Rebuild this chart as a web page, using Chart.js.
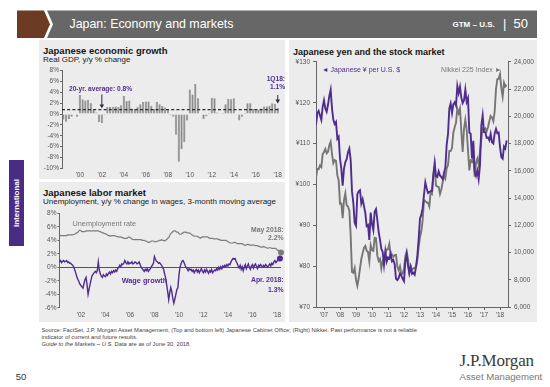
<!DOCTYPE html>
<html>
<head>
<meta charset="utf-8">
<script src="https://cdn.jsdelivr.net/npm/chart.js@4.4.1/dist/chart.umd.min.js"></script>
<style>
html,body{margin:0;padding:0}
body{width:550px;height:387px;position:relative;overflow:hidden;background:#fff;font-family:'Liberation Sans',Arial,Helvetica,sans-serif;color:#1a1a1a}
.a{position:absolute;white-space:nowrap}
.p{position:absolute;background:#ececec}
canvas{position:absolute}
.t{font-weight:bold;font-size:9.5px;line-height:12px;color:#151515}
.s{font-size:8px;line-height:10px;color:#222}
.pu{color:#4f2d8f}
.r{text-align:right}
</style>
</head>
<body>
<svg class="a" style="left:0;top:0" width="550" height="45">
 <polygon points="17,10.5 44,10.5 50,24.25 44,38 17,38" fill="#6d3a24"/>
 <polygon points="47,10.5 537,10.5 537,38 47,38 53,24.25" fill="#676767"/>
</svg>
<div class="a" style="left:69.5px;top:16.2px;font-size:12.4px;line-height:16px;color:#fff">Japan: Economy and markets</div>
<div class="a" style="left:452.5px;top:18.5px;font-size:8px;line-height:12px;color:#fff;font-weight:bold">GTM – U.S.</div>
<div class="a" style="left:503px;top:15px;font-size:13px;line-height:18px;color:#fff">|</div>
<div class="a" style="left:513.5px;top:15.3px;font-size:13px;line-height:18px;color:#fff">50</div>

<div class="a" style="left:9px;top:160px;width:15px;height:86px;background:#4b2c85"></div>
<div class="a" style="left:16.5px;top:203px;transform:translate(-50%,-50%) rotate(-90deg);font-size:8px;line-height:10px;color:#fff;font-weight:bold">International</div>

<div class="p" style="left:39px;top:40px;width:246px;height:139px"></div>
<div class="p" style="left:39px;top:182px;width:246px;height:140px"></div>
<div class="p" style="left:289px;top:40px;width:248px;height:282px"></div>

<div class="a t" style="left:43px;top:44.5px">Japanese economic growth</div>
<div class="a s" style="left:43px;top:54.7px">Real GDP, y/y % change</div>
<div class="a t" style="left:43px;top:186.7px">Japanese labor market</div>
<div class="a s" style="left:43px;top:196.7px">Unemployment, y/y % change in wages, 3-month moving average</div>
<div class="a t" style="left:293px;top:45.7px;font-size:9px">Japanese yen and the stock market</div>

<canvas id="c1" width="247" height="120" style="left:38px;top:62px"></canvas>
<canvas id="c2" width="247" height="117" style="left:38px;top:205px"></canvas>
<canvas id="c3" width="250" height="267" style="left:287px;top:55px"></canvas>

<div class="a pu" style="left:69px;top:85.3px;font-size:6.6px;line-height:8px;font-weight:bold">20-yr. average: 0.8%</div>
<div class="a pu r" style="right:265px;top:75px;font-size:6.6px;line-height:8px;font-weight:bold">1Q18:<br>1.1%</div>

<div class="a" style="left:72.5px;top:218.8px;font-size:7.3px;line-height:9px;color:#7a7a7a">Unemployment rate</div>
<div class="a pu" style="left:121.7px;top:275.5px;font-size:7.3px;line-height:9px;font-weight:bold">Wage growth</div>
<div class="a r" style="right:266.5px;top:226.2px;font-size:6.8px;line-height:7.4px;font-weight:bold;color:#777">May 2018:<br>2.2%</div>
<div class="a pu r" style="right:266.5px;top:275.4px;font-size:6.8px;line-height:9.3px;font-weight:bold">Apr. 2018:<br>1.3%</div>

<div class="a pu" style="left:321.7px;top:64.5px;font-size:7px;line-height:9px">◄ Japanese ¥ per U.S. $</div>
<div class="a r" style="right:48.3px;top:64.5px;font-size:7px;line-height:9px;color:#7a7a7a">Nikkei 225 Index ►</div>

<div class="a" style="left:41.4px;top:326.5px;font-size:5.8px;line-height:7px;color:#444">Source: FactSet, J.P. Morgan Asset Management; (Top and bottom left) Japanese Cabinet Office; (Right) Nikkei. Past performance is not a reliable<br>indicator of current and future results.<br><i>Guide to the Markets – U.S.</i> Data are as of June 30, 2018.</div>

<div class="a" style="left:15.8px;top:371px;font-size:9.5px;line-height:11px;color:#333">50</div>
<div class="a" style="left:459.6px;top:351px;font-size:17px;line-height:20px;color:#3a3a3a;font-family:'Liberation Serif','Times New Roman',serif;letter-spacing:-0.2px">J.P.Morgan</div>
<div class="a" style="left:459.6px;top:371px;font-size:9.6px;line-height:11px;color:#777">Asset Management</div>

<script>
// ---------- DATA ----------
// Real GDP y/y %, quarterly from 1998Q3 to 2018Q1
const gdpStartYear = 1998, gdpStartQuarter = 3;
const gdpGrowth = [
 -1.0, -1.4,
 -0.9, -0.5, 0.1, -0.5,
 3.5, 2.7, 2.5, 2.6,
 2.0, 0.9, 0.3, -1.5,
 -1.7, -0.2, 1.3, 1.3,
 1.3, 1.4, 1.3, 1.6,
 3.3, 2.4, 2.5, 1.0,
 0.9, 1.3, 1.8, 2.2,
 2.3, 2.3, 1.5, 0.9,
 2.2, 1.8, 1.5, 1.2,
 0.8, -0.2, -0.5, -3.8,
 -8.8, -6.5, -5.2, -1.2,
 4.5, 3.6, 5.5, 2.9,
 0.1, -0.9, -0.4, 0.2,
 3.0, 2.9, 0.3, 0.1,
 0.2, 1.8, 2.8, 2.7,
 2.9, -0.1, -1.2, -0.5,
 0.2, 2.0, 2.0, 0.9,
 0.8, 0.8, 1.0, 1.4,
 1.4, 1.5, 2.0, 1.9,
 1.1
];
const gdpAverage = 0.8;
const gdpTickYears = [2000, 2002, 2004, 2006, 2008, 2010, 2012, 2014, 2016, 2018];
const gdpTickLabels = ["'00", "'02", "'04", "'06", "'08", "'10", "'12", "'14", "'16", "'18"];
const gdpYTicks = [-10, -8, -6, -4, -2, 0, 2, 4, 6, 8];

// Labor market, monthly, 3-month moving averages
const labStartYear = 2000, labStartMonth = 4; // Apr 2000
const unemploymentRate = [
 4.8, 4.7, 4.7, 4.7, 4.7, 4.7, 4.7, 4.7, 4.8,
 4.8, 4.8, 4.8, 4.8, 4.8, 4.9, 4.9, 5.0, 5.1, 5.2, 5.4, 5.5,
 5.4, 5.3, 5.3, 5.3, 5.3, 5.4, 5.4, 5.4, 5.4, 5.4, 5.4, 5.4,
 5.4, 5.4, 5.4, 5.4, 5.4, 5.4, 5.3, 5.3, 5.2, 5.1, 5.1, 5.0,
 5.0, 4.9, 4.8, 4.7, 4.7, 4.6, 4.7, 4.7, 4.7, 4.7, 4.6, 4.6,
 4.5, 4.5, 4.5, 4.5, 4.4, 4.4, 4.3, 4.3, 4.3, 4.3, 4.4, 4.5,
 4.4, 4.3, 4.2, 4.1, 4.1, 4.1, 4.1, 4.1, 4.1, 4.1, 4.1, 4.1,
 4.0, 4.0, 4.0, 3.9, 3.9, 3.8, 3.7, 3.7, 3.8, 3.9, 3.9, 3.9,
 3.8, 3.8, 3.8, 3.9, 3.9, 4.0, 4.0, 4.1, 4.0, 4.0, 3.9, 4.0,
 4.1, 4.3, 4.4, 4.7, 5.0, 5.1, 5.3, 5.4, 5.4, 5.3, 5.2, 5.2,
 5.0, 4.9, 4.9, 5.0, 5.1, 5.2, 5.2, 5.2, 5.1, 5.1, 5.1, 5.0,
 4.9, 4.8, 4.7, 4.6, 4.6, 4.6, 4.6, 4.5, 4.4, 4.3, 4.4, 4.5,
 4.5, 4.5, 4.5, 4.5, 4.5, 4.4, 4.3, 4.3, 4.3, 4.3, 4.2, 4.2,
 4.2, 4.2, 4.2, 4.1, 4.1, 4.0, 4.0, 4.0, 4.0, 4.0, 4.0, 3.9,
 3.8, 3.7, 3.6, 3.6, 3.6, 3.6, 3.7, 3.7, 3.6, 3.5, 3.5, 3.5,
 3.5, 3.5, 3.5, 3.4, 3.3, 3.3, 3.3, 3.4, 3.4, 3.3, 3.3, 3.3,
 3.3, 3.3, 3.3, 3.2, 3.2, 3.2, 3.1, 3.1, 3.0, 3.0, 3.0, 3.1,
 3.0, 2.9, 2.9, 2.8, 2.9, 2.9, 2.9, 2.8, 2.8, 2.8, 2.8, 2.8,
 2.6, 2.5, 2.5, 2.4, 2.2
];
const wageGrowth = [
 0.8, 1.0, 0.7, 0.9, 1.0, 0.8, 0.9, 1.0, 0.7,
 0.8, 0.6, 0.6, 0.4, 0.3, 0.0, -0.4, -0.9, -1.4, -1.8, -2.1, -2.5,
 -2.7, -2.9, -3.1, -2.4, -1.8, -1.5, -2.6, -4.0, -3.2, -2.5, -1.8, -1.2,
 -1.0, -0.8, -0.6, -0.8, -0.5, 0.8, -0.4, -1.0, -1.3, -1.5, -1.1, -1.3,
 -1.4, -1.0, -1.2, -0.9, -0.7, -1.0, -0.6, -0.8, -0.5, -0.7, -0.4, -0.6,
 -0.2, 0.0, 0.3, 0.1, 0.5, 0.4, 0.6, 1.0, 0.7, 0.5, 0.8, 0.5,
 0.7, 0.6, 0.8, 0.5, 0.6, 0.8, 0.7, 0.5, 0.6, 0.8, 0.4, 0.0,
 -0.2, -0.4, -0.6, -0.3, -0.5, -0.2, -0.6, -0.4, -0.2, 0.1, 0.3, 0.6,
 1.6, 1.2, 0.9, 0.8, 0.6, 0.7, 0.5, 0.3, 0.0, -0.3, -1.0, -1.6,
 -2.6, -3.6, -4.8, -3.8, -3.0, -3.6, -4.6, -5.3, -4.7, -4.0, -3.3, -3.0,
 -1.2, 0.0, 0.5, 0.9, 1.0, 0.7, 0.3, 0.0, -0.2, -0.5, -0.2, -0.4,
 -0.3, -0.6, -0.4, -0.8, -0.5, -0.3, -0.7, -0.4, -0.8, -0.5, -0.2, -0.6,
 -0.8, -0.4, -0.7, -0.3, -0.6, -0.9, -0.5, -0.7, -0.3, -0.8, -0.6, -0.4,
 -0.5, -0.2, -0.4, 0.0, -0.3, 0.1, -0.2, 0.2, 0.0, 0.3, 0.1, 0.4,
 0.2, 0.5, 0.4, 0.8, 1.1, 1.3, 1.2, 1.3, 0.9, 0.6, 0.2, -0.1,
 0.3, -0.3, 0.1, -0.5, 0.0, 0.4, -0.2, 0.2, 0.5, 0.0, -0.3, 0.2,
 0.4, -0.1, 0.3, 0.5, 0.1, -0.2, 0.3, 0.1, 0.4, 0.2, 0.0, 0.3,
 0.1, 0.4, 0.2, 0.0, 0.3, 0.5, 0.2, 0.6, 0.4, 0.8, 1.0, 0.7,
 0.9, 1.1, 1.0, 1.3
];
const labTickYears = [2002, 2004, 2006, 2008, 2010, 2012, 2014, 2016, 2018];
const labTickLabels = ["'02", "'04", "'06", "'08", "'10", "'12", "'14", "'16", "'18"];

// Yen per USD and Nikkei 225, monthly from Jul 2006 to Jun 2018
const fxStartYear = 2006, fxStartMonth = 7;
const yenPerUSD = [
 114.6, 117.4, 118.0, 116.9, 115.8, 119.0,
 120.6, 118.6, 117.8, 119.5, 121.7, 123.2, 118.6, 115.8, 114.8, 115.3, 111.2, 111.7,
 106.4, 103.8, 99.7, 103.9, 105.5, 106.2, 107.9, 108.8, 106.0, 98.3, 95.5, 90.6,
 89.9, 97.6, 98.3, 98.6, 95.3, 96.4, 94.7, 93.0, 89.8, 90.1, 86.4, 93.1,
 90.3, 88.8, 93.4, 94.0, 91.3, 88.4, 86.5, 84.2, 83.5, 80.4, 83.6, 81.1,
 82.1, 81.8, 83.1, 81.2, 81.5, 80.5, 76.9, 76.6, 77.1, 78.2, 77.7, 76.9,
 76.3, 81.2, 82.9, 80.1, 78.3, 79.8, 78.1, 78.4, 77.9, 79.8, 82.5, 86.7,
 91.7, 92.6, 94.2, 97.5, 100.5, 99.1, 97.9, 98.2, 98.3, 98.4, 102.4, 105.3,
 102.0, 101.8, 103.2, 102.2, 101.8, 101.3, 102.8, 104.1, 109.7, 112.3, 118.6, 119.8,
 117.5, 119.6, 120.1, 119.3, 124.1, 122.4, 123.9, 121.2, 119.9, 120.6, 123.2, 120.2,
 121.1, 112.7, 112.4, 106.4, 110.7, 103.2, 102.1, 103.4, 101.3, 104.8, 114.5, 116.9,
 112.8, 112.8, 111.4, 111.5, 110.8, 112.4, 110.3, 110.0, 112.5, 113.6, 112.5, 112.7,
 109.2, 106.7, 106.3, 109.3, 108.8, 110.8
];
const nikkei225 = [
 15457, 16140, 16128, 16399, 16274, 17226,
 17383, 17604, 17288, 17400, 17876, 18138, 17249, 16569, 16786, 16738, 15681, 15308,
 13592, 13603, 12526, 13850, 14339, 13481, 13377, 13073, 11260, 8577, 8512, 8860,
 7994, 7568, 8110, 8828, 9523, 9958, 10357, 10493, 10133, 10035, 9346, 10546,
 10198, 10126, 11090, 11057, 9769, 9383, 9537, 8824, 9369, 9202, 9937, 10229,
 10238, 10624, 9755, 9850, 9694, 9816, 9833, 8955, 8700, 8988, 8435, 8455,
 8803, 9723, 10084, 9521, 8543, 9007, 8695, 8840, 8870, 8928, 9446, 10395,
 11139, 11559, 12398, 13861, 13775, 13677, 13668, 13389, 14456, 14328, 15662, 16291,
 14915, 14841, 14828, 14304, 14632, 15162, 15621, 15425, 16174, 16414, 17460, 17451,
 17674, 18798, 19207, 19520, 20563, 20236, 20585, 18890, 17388, 19083, 19747, 19034,
 17518, 16027, 16759, 16666, 17235, 15576, 16569, 16887, 16450, 17425, 18308, 19114,
 19041, 19119, 18909, 19197, 19651, 20033, 19925, 19646, 20356, 22012, 22725, 22765,
 23098, 22068, 21454, 22468, 22202, 22305
];
const fxTickYears = [2007, 2008, 2009, 2010, 2011, 2012, 2013, 2014, 2015, 2016, 2017, 2018];
const fxTickLabels = ["'07", "'08", "'09", "'10", "'11", "'12", "'13", "'14", "'15", "'16", "'17", "'18"];
const yenTicks = [70, 80, 90, 100, 110, 120, 130];
const nikkeiTicks = [6000, 8000, 10000, 12000, 14000, 16000, 18000, 20000, 22000, 24000];

// ---------- STYLE ----------
const PURPLE = '#4f2d8f', GRAY = '#767676', AXIS = '#666';
Chart.defaults.font.family = "'Liberation Sans', Arial, sans-serif";
Chart.defaults.font.size = 6.5;
Chart.defaults.color = '#555';

// quarter categories
const gdpQuarters = [];
{ let yr = gdpStartYear, q = gdpStartQuarter;
  for (let i = 0; i < gdpGrowth.length; i++) { gdpQuarters.push(yr + 'Q' + q); q++; if (q > 4) { q = 1; yr++; } } }

const monthX = (y0, m0, i) => y0 + (m0 - 1 + i) / 12;

function arrowDown(ctx, x, y0, y1, color) {
  ctx.save(); ctx.strokeStyle = color; ctx.fillStyle = color; ctx.lineWidth = 1; ctx.setLineDash([]);
  ctx.beginPath(); ctx.moveTo(x, y0); ctx.lineTo(x, y1 - 3); ctx.stroke();
  ctx.beginPath(); ctx.moveTo(x - 2.3, y1 - 3.8); ctx.lineTo(x + 2.3, y1 - 3.8); ctx.lineTo(x, y1); ctx.closePath(); ctx.fill();
  ctx.restore();
}

// ---------- CHART 1: GDP ----------
const gdpAnnot = { id: 'gdpAnnot', afterDatasetsDraw(chart) {
  const { ctx, chartArea: a, scales: { x, y } } = chart;
  const yy = y.getPixelForValue(gdpAverage);
  ctx.save(); ctx.strokeStyle = '#2c2a4c'; ctx.lineWidth = 1.2; ctx.setLineDash([3, 2.2]);
  ctx.beginPath(); ctx.moveTo(a.left, yy); ctx.lineTo(a.right, yy); ctx.stroke(); ctx.restore();
  arrowDown(ctx, x.getPixelForValue(gdpQuarters.indexOf('2002Q1')), y.getPixelForValue(3.6), y.getPixelForValue(1.05), '#2c2a4c');
  arrowDown(ctx, x.getPixelForValue(gdpQuarters.length - 1), y.getPixelForValue(3.5), y.getPixelForValue(1.95), '#2c2a4c');
}};

new Chart(document.getElementById('c1'), {
  type: 'bar',
  data: { labels: gdpQuarters, datasets: [{ data: gdpGrowth, backgroundColor: '#8b8b8b', borderColor: '#777', borderWidth: 0.5, barPercentage: 0.8, categoryPercentage: 1 }] },
  options: {
    responsive: false, animation: false, events: [], devicePixelRatio: 1,
    layout: { padding: { left: 0, top: 8.5, right: 4, bottom: 0 } },
    plugins: { legend: { display: false }, tooltip: { enabled: false } },
    scales: {
      x: { grid: { display: false, drawTicks: false }, border: { display: false },
           ticks: { autoSkip: false, maxRotation: 0, minRotation: 0, padding: 3,
             callback: (v) => { const q = gdpQuarters[v]; if (q && q.endsWith('Q1')) { const k = gdpTickYears.indexOf(+q.slice(0, 4)); if (k >= 0) return gdpTickLabels[k]; } return ''; } },
           afterFit: s => { s.height = 13.6; } },
      y: { min: -10, max: 8, afterBuildTicks: s => { s.ticks = gdpYTicks.map(v => ({ value: v })); },
           ticks: { callback: v => v + '%', padding: 1 },
           grid: { display: true, drawOnChartArea: false, tickLength: 2, color: AXIS },
           border: { display: true, color: AXIS, width: 1 },
           afterFit: s => { s.width = 24; } }
    }
  },
  plugins: [gdpAnnot]
});

// ---------- CHART 2: labor ----------
const zeroLine = { id: 'zeroLine', beforeDatasetsDraw(chart) {
  const { ctx, chartArea: a, scales: { y } } = chart;
  const yy = Math.round(y.getPixelForValue(0)) + 0.5;
  ctx.save(); ctx.strokeStyle = '#555'; ctx.lineWidth = 1;
  ctx.beginPath(); ctx.moveTo(a.left, yy); ctx.lineTo(a.right, yy); ctx.stroke(); ctx.restore();
}};
const lastDot = (r) => (c) => (c.dataIndex === c.dataset.data.length - 1 ? r : 0);

new Chart(document.getElementById('c2'), {
  type: 'line',
  data: { datasets: [
    { data: wageGrowth.map((v, i) => ({ x: monthX(labStartYear, labStartMonth, i), y: v })), borderColor: PURPLE, borderWidth: 1.4,
      pointRadius: lastDot(3), pointBackgroundColor: PURPLE, pointBorderWidth: 0, tension: 0, clip: false, order: 1 },
    { data: unemploymentRate.map((v, i) => ({ x: monthX(labStartYear, labStartMonth, i), y: v })), borderColor: '#7c7c7c', borderWidth: 1.2,
      pointRadius: lastDot(3), pointBackgroundColor: '#7c7c7c', pointBorderWidth: 0, tension: 0, clip: false, order: 2 }
  ]},
  options: {
    responsive: false, animation: false, events: [], devicePixelRatio: 1,
    layout: { padding: { left: 0, top: 8.3, right: 2, bottom: 0 } },
    plugins: { legend: { display: false }, tooltip: { enabled: false } },
    scales: {
      x: { type: 'linear', min: monthX(labStartYear, labStartMonth, 0), max: monthX(labStartYear, labStartMonth, unemploymentRate.length - 1),
           afterBuildTicks: s => { s.ticks = labTickYears.map(v => ({ value: v })); },
           ticks: { maxRotation: 0, padding: 3.5, callback: v => { const k = labTickYears.indexOf(v); return k >= 0 ? labTickLabels[k] : ''; } },
           grid: { display: false, drawTicks: false }, border: { display: false },
           afterFit: s => { s.height = 14.2; } },
      y: { min: -6, max: 8, ticks: { stepSize: 2, callback: v => v + '%', padding: 1 },
           grid: { display: true, drawOnChartArea: false, tickLength: 2, color: AXIS },
           border: { display: true, color: AXIS, width: 1 },
           afterFit: s => { s.width = 21.5; } }
    }
  },
  plugins: [zeroLine]
});

// ---------- CHART 3: yen & Nikkei ----------
new Chart(document.getElementById('c3'), {
  type: 'line',
  data: { datasets: [
    { data: yenPerUSD.map((v, i) => ({ x: monthX(fxStartYear, fxStartMonth, i), y: v })), yAxisID: 'y', borderColor: PURPLE, borderWidth: 1.9,
      pointRadius: 0, tension: 0, order: 1 },
    { data: nikkei225.map((v, i) => ({ x: monthX(fxStartYear, fxStartMonth, i), y: v })), yAxisID: 'y1', borderColor: GRAY, borderWidth: 1.9,
      pointRadius: 0, tension: 0, order: 2 }
  ]},
  options: {
    responsive: false, animation: false, events: [], devicePixelRatio: 1,
    layout: { padding: { left: 0, top: 6.7, right: 0, bottom: 0 } },
    plugins: { legend: { display: false }, tooltip: { enabled: false } },
    scales: {
      x: { type: 'linear', min: 2006.5, max: 2018.5,
           afterBuildTicks: s => { s.ticks = fxTickYears.map(v => ({ value: v })); },
           ticks: { maxRotation: 0, padding: 1, callback: v => { const k = fxTickYears.indexOf(v); return k >= 0 ? fxTickLabels[k] : ''; } },
           grid: { display: true, drawOnChartArea: false, tickLength: 3, color: AXIS },
           border: { display: true, color: AXIS, width: 1 },
           afterFit: s => { s.height = 15; } },
      y: { position: 'left', min: 70, max: 130,
           afterBuildTicks: s => { s.ticks = yenTicks.map(v => ({ value: v })); },
           ticks: { callback: v => '¥' + v, padding: 3 },
           grid: { display: true, drawOnChartArea: false, tickLength: 3, color: AXIS },
           border: { display: true, color: AXIS, width: 1 },
           afterFit: s => { s.width = 29; } },
      y1: { position: 'right', min: 6000, max: 24000,
           afterBuildTicks: s => { s.ticks = nikkeiTicks.map(v => ({ value: v })); },
           ticks: { callback: v => v.toLocaleString('en-US'), padding: 3 },
           grid: { display: true, drawOnChartArea: false, tickLength: 3, color: AXIS },
           border: { display: true, color: AXIS, width: 1 },
           afterFit: s => { s.width = 29; } }
    }
  }
});
</script>
</body>
</html>
